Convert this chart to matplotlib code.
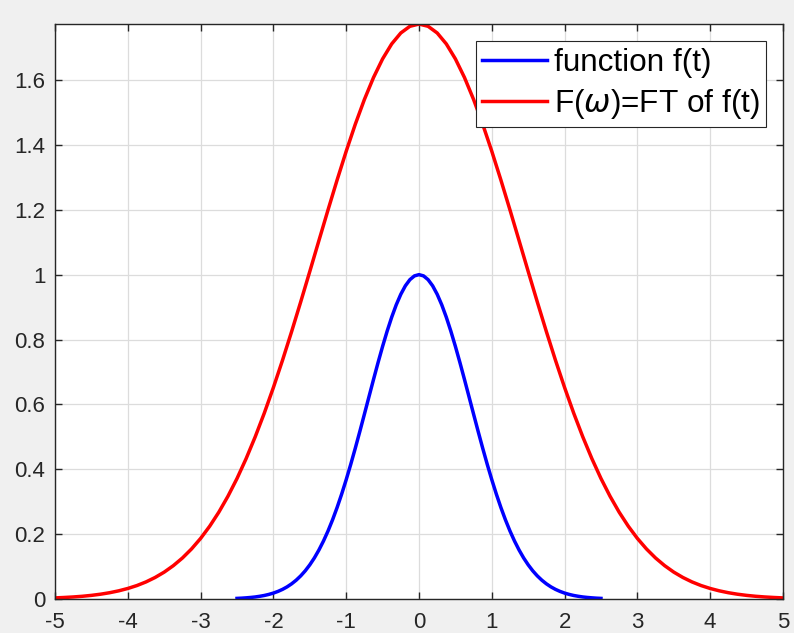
import numpy as np
import matplotlib.pyplot as plt
from matplotlib.ticker import FormatStrFormatter

# blue curve f(t) (t from -2.5 to 2.5, step 0.0625)
t = np.linspace(-2.5, 2.5, 81)
f_t = [0.0019, 0.0026, 0.0036, 0.0048, 0.0063, 0.0084, 0.0109, 0.0142, 0.0183, 0.0234,
       0.0297, 0.0374, 0.0468, 0.0580, 0.0713, 0.0870, 0.1054, 0.1266, 0.1510, 0.1786,
       0.2096, 0.2441, 0.2821, 0.3234, 0.3679, 0.4152, 0.4650, 0.5168, 0.5698, 0.6233,
       0.6766, 0.7288, 0.7788, 0.8258, 0.8688, 0.9070, 0.9394, 0.9655, 0.9845, 0.9961,
       1.0000,
       0.9961, 0.9845, 0.9655, 0.9394, 0.9070, 0.8688, 0.8258, 0.7788, 0.7288, 0.6766,
       0.6233, 0.5698, 0.5168, 0.4650, 0.4152, 0.3679, 0.3234, 0.2821, 0.2441, 0.2096,
       0.1786, 0.1510, 0.1266, 0.1054, 0.0870, 0.0713, 0.0580, 0.0468, 0.0374, 0.0297,
       0.0234, 0.0183, 0.0142, 0.0109, 0.0084, 0.0063, 0.0048, 0.0036, 0.0026, 0.0019]

# red curve F(w) (w from -5 to 5, step 0.125)
w = np.linspace(-5, 5, 81)
F_w = [0.0034, 0.0047, 0.0063, 0.0084, 0.0112, 0.0148, 0.0194, 0.0252, 0.0325, 0.0415,
       0.0527, 0.0664, 0.0829, 0.1028, 0.1264, 0.1543, 0.1868, 0.2245, 0.2676, 0.3166,
       0.3715, 0.4327, 0.5000, 0.5732, 0.6521, 0.7360, 0.8243, 0.9160, 1.0099, 1.1049,
       1.1993, 1.2917, 1.3804, 1.4637, 1.5400, 1.6076, 1.6651, 1.7113, 1.7450, 1.7656,
       1.7725,
       1.7656, 1.7450, 1.7113, 1.6651, 1.6076, 1.5400, 1.4637, 1.3804, 1.2917, 1.1993,
       1.1049, 1.0099, 0.9160, 0.8243, 0.7360, 0.6521, 0.5732, 0.5000, 0.4327, 0.3715,
       0.3166, 0.2676, 0.2245, 0.1868, 0.1543, 0.1264, 0.1028, 0.0829, 0.0664, 0.0527,
       0.0415, 0.0325, 0.0252, 0.0194, 0.0148, 0.0112, 0.0084, 0.0063, 0.0047, 0.0034]

x_ticks = [-5, -4, -3, -2, -1, 0, 1, 2, 3, 4, 5]
y_ticks = [0, 0.2, 0.4, 0.6, 0.8, 1.0, 1.2, 1.4, 1.6]

plt.rcParams['font.family'] = ['Liberation Sans', 'DejaVu Sans']
plt.rcParams['mathtext.fontset'] = 'dejavusans'
plt.rcParams['axes.unicode_minus'] = False

fig = plt.figure(figsize=(7.94, 6.33), dpi=100, facecolor='#f0f0f0')
ax = fig.add_axes([0.0693, 0.0537, 0.9168, 0.9083])

ax.plot(t, f_t, color='#0000ff', linewidth=2.5, solid_joinstyle='round',
        label='function f(t)')
ax.plot(w, F_w, color='#ff0000', linewidth=2.5, solid_joinstyle='round',
        label=r'F($\omega$)=FT of f(t)')

ax.set_xlim(-5, 5)
ax.set_ylim(0, 1.7725)
ax.set_xticks(x_ticks)
ax.set_yticks(y_ticks)
ax.yaxis.set_major_formatter(FormatStrFormatter('%g'))

ax.grid(True, color='#dcdcdc', linewidth=0.9)
ax.set_axisbelow(True)
for s in ax.spines.values():
    s.set_color('#262626')
    s.set_linewidth(1.0)
ax.tick_params(direction='in', top=True, right=True, length=5, width=1,
               color='#262626', labelcolor='#262626', labelsize=16)
ax.tick_params(axis='x', pad=9)
ax.tick_params(axis='y', pad=7)

leg = ax.legend(loc='upper right', fontsize=22.7, fancybox=False, framealpha=1,
                edgecolor='#262626', labelspacing=0.3, handlelength=2.05,
                handletextpad=0.22, borderpad=0.2, borderaxespad=0.55)
leg.get_frame().set_linewidth(0.8)

fig.savefig('out.png', dpi=100, facecolor=fig.get_facecolor())
